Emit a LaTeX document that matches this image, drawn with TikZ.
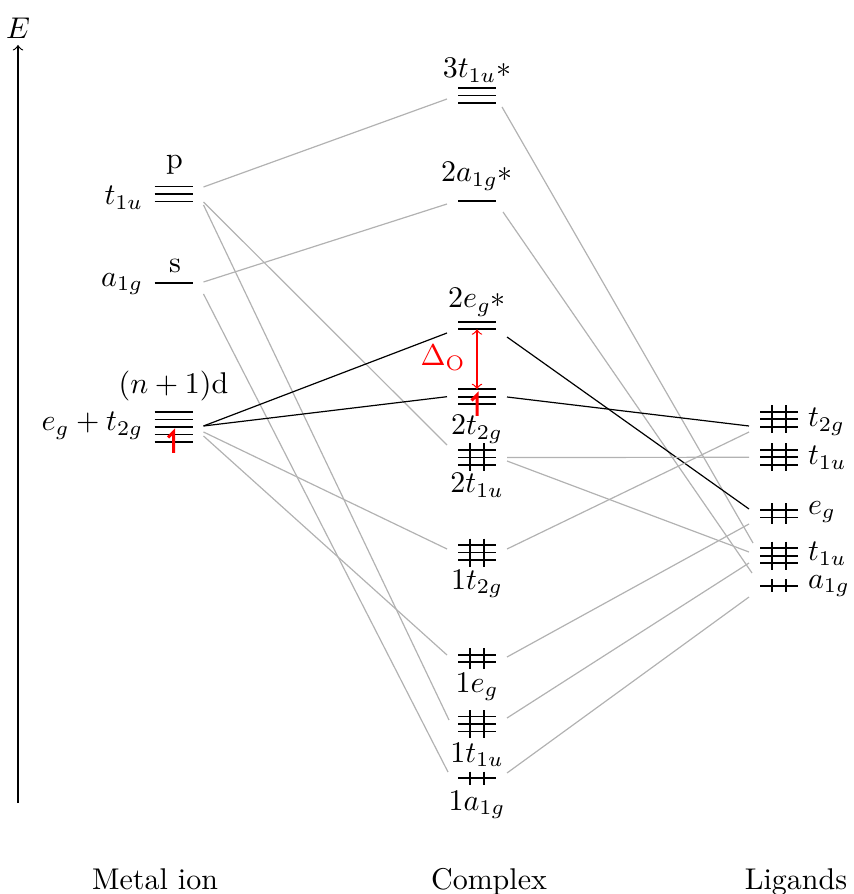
\documentclass[tikz,border=0pt]{standalone}
\usetikzlibrary{calc}
\newcommand{\molev}[5]{%
  \node[lvlnode] (#1) at (#2,#3) {};
  \foreach \k in {1,...,#4}{\draw[lvl] ({#2-19},{#3+(\k-(#4+1)/2)*7.5}) -- ++(38,0);}
  \ifnum#5>0
    \draw[lvl] ({#2-7},{#3-(#4-1)*3.75-6.5}) -- ({#2-7},{#3+(#4-1)*3.75+6.5});
    \draw[lvl] ({#2+7},{#3-(#4-1)*3.75-6.5}) -- ({#2+7},{#3+(#4-1)*3.75+6.5});
  \fi
}
\begin{document}
\begin{tikzpicture}[x=0.3333pt,y=-0.3333pt,
  lvl/.style={line width=0.55pt},
  lvlnode/.style={minimum width=20pt,minimum height=2pt,inner sep=0pt,outer sep=0pt},
  gcon/.style={line width=0.4pt,draw=black!30},
  bcon/.style={line width=0.4pt,draw=black},
  lab/.style={inner sep=0pt,outer sep=0pt},
  elec/.style={red,line width=1pt,line join=miter}]
\useasboundingbox (0,0) rectangle (853,894);

% energy axis
\coordinate (axb) at (18,803);
\coordinate (axt) at (18,45);
\draw[->,line width=0.4pt] (axb) -- (axt);
\node[lab] (E) at (18,28) {$E$};

% metal levels
\molev{Mt1u}{173.5}{194}{3}{0}
\molev{Ma1g}{173.5}{283}{1}{0}
\molev{Md}{173.5}{427}{5}{0}

% complex levels
\molev{C3t1u}{477}{95.5}{3}{0}
\molev{C2a1g}{477}{201}{1}{0}
\molev{C2eg}{477}{325.5}{2}{0}
\molev{C2t2g}{477}{396.7}{3}{0}
\molev{C2t1u}{477}{457.5}{3}{1}
\molev{C1t2g}{477}{552.5}{3}{1}
\molev{C1eg}{477}{658.5}{2}{1}
\molev{C1t1u}{477}{724}{3}{1}
\molev{C1a1g}{477}{778}{1}{1}

% ligand levels
\molev{Lt2g}{779}{419.3}{3}{1}
\molev{Lt1ua}{779}{457.3}{3}{1}
\molev{Leg}{779}{513.7}{2}{1}
\molev{Lt1ub}{779}{555.7}{3}{1}
\molev{La1g}{779}{585.7}{1}{1}

% electrons
\draw[elec] (173.5,453) -- (173.5,432) -- (168,437.5);
\draw[elec] (477,416) -- (477,395) -- (471.5,400.5);

% splitting
\draw[red,<->,line width=0.4pt] ($(C2eg)+(0,3.75)$) -- ($(C2t2g)+(0,-7.5)$);
\node[lab,red] (DO) at (443,358) {$\Delta_{\mathrm{O}}$};

% connectors metal -> complex
\draw[gcon] ($(Mt1u.east)+(0,-7)$) -- ($(C3t1u.west)+(0,3.5)$);
\draw[gcon] ($(Mt1u.east)+(0,8)$) -- ($(C2t1u.west)+(0,-12.5)$);
\draw[gcon] ($(Mt1u.east)+(0,11)$) -- ($(C1t1u.west)+(2,-4)$);
\draw[gcon] ($(Ma1g.east)+(0,-1)$) -- ($(C2a1g.west)+(0,3)$);
\draw[gcon] ($(Ma1g.east)+(0,11)$) -- ($(C1a1g.west)+(1,-6)$);
\draw[gcon] ($(Md.east)+(0,5)$) -- ($(C1t2g.west)+(0,-3.5)$);
\draw[gcon] ($(Md.east)+(0,9)$) -- ($(C1eg.west)+(0,-3.5)$);
\draw[bcon] ($(Md.east)+(0,-1)$) -- ($(C2eg.west)+(0,7.5)$);
\draw[bcon] ($(Md.east)+(0,-1)$) -- ($(C2t2g.west)+(0,0)$);

% connectors complex -> ligands
\draw[gcon] ($(C3t1u.east)+(-5,11.5)$) -- ($(Lt1ub.west)+(4,-12.7)$);
\draw[gcon] ($(C2a1g.east)+(-4,11)$) -- ($(La1g.west)+(3,-12.7)$);
\draw[bcon] ($(C2eg.east)+(0,11.5)$) -- ($(Leg.west)+(0,-4.7)$);
\draw[bcon] ($(C2t2g.east)+(0,0.3)$) -- ($(Lt2g.west)+(0,6.7)$);
\draw[gcon] (C2t1u.east) -- (Lt1ua.west);
\draw[gcon] ($(C2t1u.east)+(0,3.5)$) -- ($(Lt1ub.west)+(0,-3.7)$);
\draw[gcon] ($(C1t2g.east)+(0,-3.5)$) -- ($(Lt2g.west)+(0,12.7)$);
\draw[gcon] ($(C1eg.east)+(0,-1.5)$) -- ($(Leg.west)+(0,10.3)$);
\draw[gcon] ($(C1t1u.east)+(0,-6)$) -- ($(Lt1ub.west)+(0,7.3)$);
\draw[gcon] ($(C1a1g.east)+(0,-5)$) -- ($(La1g.west)+(0,11.3)$);

% metal labels
\node[lab,anchor=base] (lp) at (174.5,169) {p};
\node[lab,anchor=base] (ls) at (175,273) {s};
\node[lab,anchor=base] (ld) at (173.5,394) {$(n+1)$d};
\node[lab,anchor=base east] (lMt1u) at (143,205) {$t_{1u}$};
\node[lab,anchor=base east] (lMa1g) at (143,286.5) {$a_{1g}$};
\node[lab,anchor=base east] (lMd) at (143,431) {$e_g+t_{2g}$};

% complex labels
\node[lab,anchor=base] (l3t1u) at (477,78) {$3t_{1u}*$};
\node[lab,anchor=base] (l2a1g) at (477,182) {$2a_{1g}*$};
\node[lab,anchor=base] (l2eg) at (477,308) {$2e_g*$};
\node[lab,anchor=base] (l2t2g) at (477,435) {$2t_{2g}$};
\node[lab,anchor=base] (l2t1u) at (477,493) {$2t_{1u}$};
\node[lab,anchor=base] (l1t2g) at (477,589) {$1t_{2g}$};
\node[lab,anchor=base] (l1eg) at (477,692) {$1e_g$};
\node[lab,anchor=base] (l1t1u) at (477,762) {$1t_{1u}$};
\node[lab,anchor=base] (l1a1g) at (477,810) {$1a_{1g}$};

% ligand labels
\node[lab,anchor=west] (lLt2g) at (808,422) {$t_{2g}$};
\node[lab,anchor=west] (lLt1ua) at (808,458) {$t_{1u}$};
\node[lab,anchor=west] (lLeg) at (808,512) {$e_g$};
\node[lab,anchor=west] (lLt1ub) at (808,554) {$t_{1u}$};
\node[lab,anchor=west] (lLa1g) at (808,586) {$a_{1g}$};

% column titles
\node[lab,anchor=base] (tM) at (155,889) {Metal ion};
\node[lab,anchor=base] (tC) at (489,889) {Complex};
\node[lab,anchor=base] (tL) at (796,889) {Ligands};
\end{tikzpicture}
\end{document}
